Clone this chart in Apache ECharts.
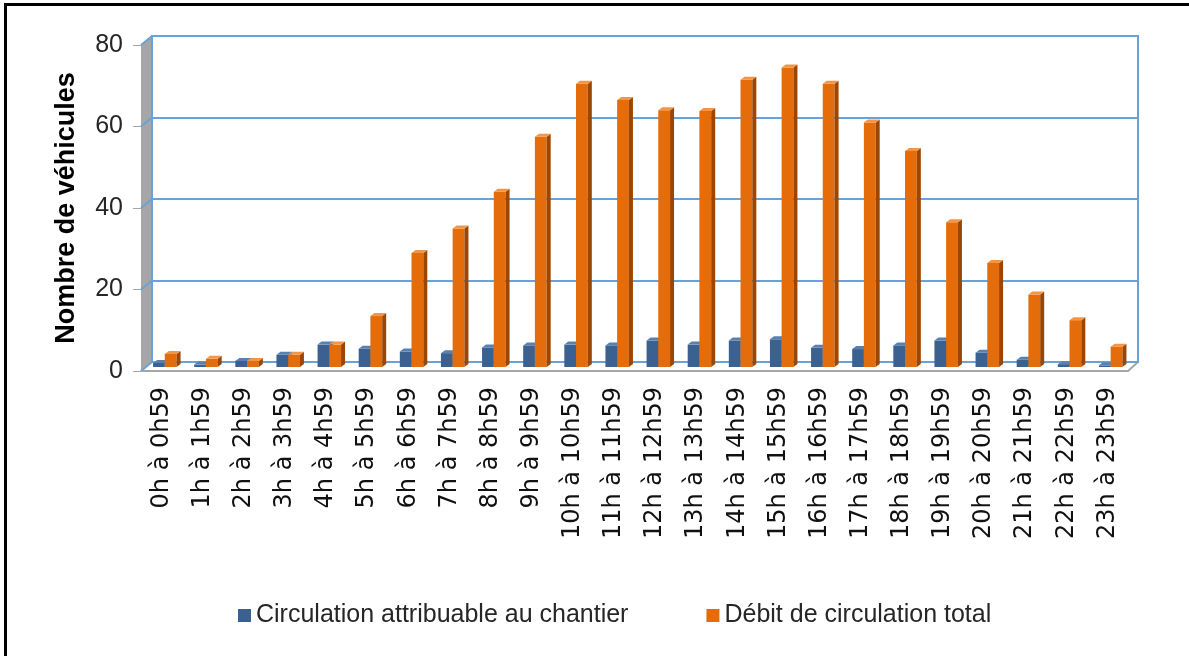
<!DOCTYPE html>
<html>
<head>
<meta charset="utf-8">
<script src="https://cdn.jsdelivr.net/npm/echarts@6/dist/echarts.min.js"></script>
<style>
  html, body { margin: 0; padding: 0; background: #fff; }
  #chart { width: 1189px; height: 656px; }
</style>
</head>
<body>
<div id="chart"></div>
<script>
const categories = ['0h à 0h59', '1h à 1h59', '2h à 2h59', '3h à 3h59', '4h à 4h59', '5h à 5h59',
  '6h à 6h59', '7h à 7h59', '8h à 8h59', '9h à 9h59', '10h à 10h59', '11h à 11h59',
  '12h à 12h59', '13h à 13h59', '14h à 14h59', '15h à 15h59', '16h à 16h59', '17h à 17h59',
  '18h à 18h59', '19h à 19h59', '20h à 20h59', '21h à 21h59', '22h à 22h59', '23h à 23h59']
const chantier = [1, 0.6, 1.5, 3, 5.5, 4.5, 3.8, 3.4, 4.8, 5.3, 5.5, 5.3,
  6.5, 5.5, 6.5, 6.8, 4.7, 4.4, 5.3, 6.5, 3.5, 1.8, 0.7, 0.4]
const total = [3.2, 2, 1.5, 3, 5.5, 12.5, 28, 34, 43, 56.5, 69.5, 65.5,
  63, 62.8, 70.5, 73.5, 69.5, 60, 53, 35.5, 25.5, 17.8, 11.5, 5]
const yTicks = [0, 20, 40, 60, 80]

// front plane (axes) and back wall (grid lines)
const FL = 141, FT = 45, FW = 987, FH = 326
const BL = 152, BT = 36
const DY = -4, DEPTH = 4, RISE = 3

const chart = echarts.init(document.getElementById('chart'))

function bar3d(offL, offR, front, top, side) {
  return (params, api) => {
    const i = api.value(0), v = api.value(1)
    const base = api.coord([i, 0]), tp = api.coord([i, v])
    const x0 = base[0] + offL, x1 = base[0] + offR
    const yb = base[1] + DY, yt = tp[1] + DY
    return {
      type: 'group',
      children: [
        { type: 'rect', shape: { x: x0, y: yt, width: x1 - x0, height: yb - yt }, style: { fill: front } },
        { type: 'polygon', shape: { points: [[x1, yt], [x1 + DEPTH, yt - RISE], [x1 + DEPTH, yb - RISE], [x1, yb]] }, style: { fill: side } },
        { type: 'polygon', shape: { points: [[x0, yt], [x0 + DEPTH, yt - RISE], [x1 + DEPTH, yt - RISE], [x1, yt]] }, style: { fill: top } },
      ]
    }
  }
}

const fy = v => FT + FH - v * FH / 80
const by = v => BT + FH - v * FH / 80
const wall = [
  { type: 'rect', shape: { x: 5, y: 3, width: 1184, height: 3 }, style: { fill: '#000' } },
  { type: 'rect', shape: { x: 4, y: 3, width: 3, height: 653 }, style: { fill: '#000' } },
  { type: 'polygon', z: -1, shape: { points: [[FL, fy(80)], [BL, by(80)], [BL, by(0)], [FL, fy(0)]] }, style: { fill: '#a6a6a6' } },
  { type: 'line', shape: { x1: FL + FW, y1: fy(0), x2: BL + FW - 1, y2: by(0) }, style: { stroke: '#a6a6a6', lineWidth: 2 } },
  ...yTicks.map(t => ({ type: 'line', shape: { x1: FL, y1: fy(t), x2: BL, y2: by(t) }, style: { stroke: '#67a3da', lineWidth: 2 } })),
]

chart.setOption({
  animation: false,
  backgroundColor: '#fff',
  graphic: wall,
  grid: [
    { left: BL, top: BT, width: FW - 1, height: FH, show: true, borderColor: '#67a3da', borderWidth: 2, backgroundColor: '#fff' },
    { left: FL, top: FT, width: FW, height: FH },
  ],
  legend: {
    left: 233, top: 598,
    itemWidth: 13, itemHeight: 13, itemGap: 78,
    icon: 'rect',
    textStyle: { fontFamily: 'Liberation Sans', fontSize: 25, color: '#262626' },
    data: [
      { name: 'Circulation attribuable au chantier', itemStyle: { color: '#3a6190' } },
      { name: 'Débit de circulation total', itemStyle: { color: '#e46c0a' } },
    ]
  },
  xAxis: [
    { gridIndex: 0, type: 'category', data: categories, show: false },
    {
      gridIndex: 1, type: 'category', data: categories,
      axisLine: { lineStyle: { color: '#a6a6a6', width: 2 } },
      axisTick: { length: 8, lineStyle: { color: '#a6a6a6' } },
      axisLabel: { rotate: 90, margin: 16, fontFamily: 'DejaVu Sans', fontSize: 24, color: '#111', interval: 0 },
    },
  ],
  yAxis: [
    {
      gridIndex: 0, type: 'value', min: 0, max: 80, interval: 20,
      axisLine: { show: false }, axisTick: { show: false }, axisLabel: { show: false },
      splitLine: { lineStyle: { color: '#67a3da', width: 2 } },
    },
    {
      gridIndex: 1, type: 'value', min: 0, max: 80, interval: 20,
      name: 'Nombre de véhicules', nameLocation: 'middle', nameGap: 61, nameRotate: 90,
      nameTextStyle: { fontFamily: 'Liberation Sans', fontWeight: 'bold', fontSize: 27, color: '#000' },
      axisLine: { show: false },
      axisTick: { show: true, length: 8, lineStyle: { color: '#a6a6a6' } },
      axisLabel: { margin: 18, fontFamily: 'Liberation Sans', fontSize: 25, color: '#262626' },
      splitLine: { show: false },
    },
  ],
  series: [
    {
      name: 'Circulation attribuable au chantier', type: 'custom', xAxisIndex: 1, yAxisIndex: 1,
      itemStyle: { color: '#3a6190' },
      renderItem: bar3d(-8.5, 3.2, '#3a6190', '#5a80b0', '#223e62'),
      data: chantier.map((v, i) => [i, v]),
      encode: { x: 0, y: 1 },
    },
    {
      name: 'Débit de circulation total', type: 'custom', xAxisIndex: 1, yAxisIndex: 1,
      itemStyle: { color: '#e46c0a' },
      renderItem: bar3d(3.2, 15, '#e46c0a', '#f39546', '#9c4604'),
      data: total.map((v, i) => [i, v]),
      encode: { x: 0, y: 1 },
    },
  ],
})
</script>
</body>
</html>
